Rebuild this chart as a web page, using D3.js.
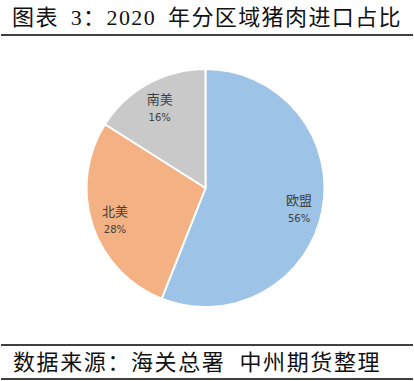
<!DOCTYPE html>
<html><head><meta charset="utf-8">
<script src="https://cdn.jsdelivr.net/npm/d3@7"></script>
<style>body{margin:0;background:#fff}svg{display:block}</style>
</head><body>
<script>
const categories = ["欧盟", "北美", "南美"];
const values = [56, 28, 16];
const labels = ["56%", "28%", "16%"];
const colors = ["#9DC3E6", "#F4B183", "#C9C9C9"];
const titleText = "图表 3：2020 年分区域猪肉进口占比";
const sourceText = "数据来源：海关总署 中州期货整理";

const W = 414, H = 381;
const svg = d3.select("body").append("svg").attr("width", W).attr("height", H);
const serif = "'Liberation Serif','DejaVu Serif','Noto Sans CJK SC',serif";

svg.append("text").attr("x", 12).attr("y", 25).attr("font-family", serif)
  .attr("font-size", 22).attr("fill", "#111")
  .attr("letter-spacing", 1.4).attr("word-spacing", 5).text(titleText);
svg.append("line").attr("x1", 1).attr("x2", 413).attr("y1", 35).attr("y2", 35)
  .attr("stroke", "#000").attr("stroke-width", 1.5);

const cx = 205.5, cy = 188, r = 119;
const pie = d3.pie().sort(null).value(d => d.v);
const data = pie(categories.map((c, i) => ({c, v: values[i], l: labels[i], col: colors[i]})));
const arc = d3.arc().innerRadius(0).outerRadius(r);
const g = svg.append("g").attr("transform", `translate(${cx},${cy})`);
g.selectAll("path").data(data).join("path").attr("d", arc)
  .attr("fill", d => d.data.col).attr("stroke", "#fff").attr("stroke-width", 2);

const labelArc = d3.arc().innerRadius(r * 0.8).outerRadius(r * 0.8);
const lg = g.selectAll("g.lab").data(data).join("g").attr("class", "lab")
  .attr("transform", d => { const [x, y] = labelArc.centroid(d); return `translate(${x},${y})`; });
lg.append("text").attr("text-anchor", "middle").attr("y", -1)
  .attr("font-family", "'Noto Sans CJK SC',sans-serif").attr("font-size", 13).attr("fill", "#404040")
  .text(d => d.data.c);
lg.append("text").attr("text-anchor", "middle").attr("y", 16)
  .attr("font-family", "'DejaVu Sans',sans-serif").attr("font-size", 10).attr("fill", "#404040")
  .text(d => d.data.l);

svg.append("line").attr("x1", 1).attr("x2", 413).attr("y1", 345).attr("y2", 345)
  .attr("stroke", "#000").attr("stroke-width", 1.5);
svg.append("text").attr("x", 13).attr("y", 370).attr("font-family", serif)
  .attr("font-size", 22).attr("fill", "#111")
  .attr("letter-spacing", 1.6).attr("word-spacing", 7).text(sourceText);
svg.append("line").attr("x1", 1).attr("x2", 413).attr("y1", 379).attr("y2", 379)
  .attr("stroke", "#000").attr("stroke-width", 1.5);
</script>
</body></html>
